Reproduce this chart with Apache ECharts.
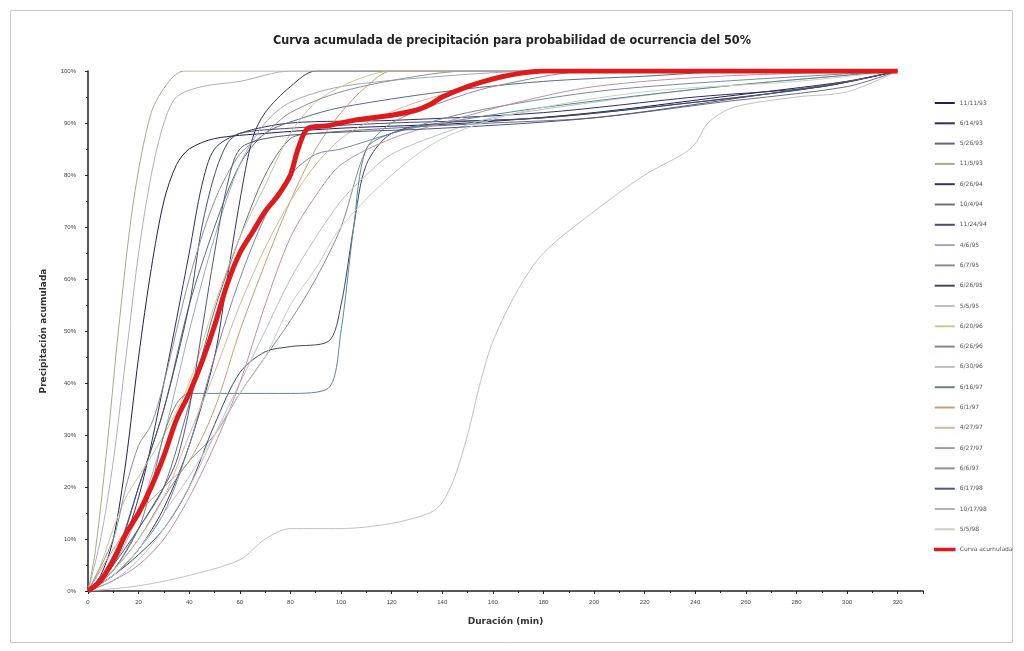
<!DOCTYPE html>
<html><head><meta charset="utf-8">
<script src="https://cdn.jsdelivr.net/npm/echarts@6/dist/echarts.min.js"></script>
<style>html,body{margin:0;padding:0;background:#fff}#c{width:1024px;height:651px}</style>
</head><body><div id="c"></div>
<script>
const titleText = "Curva acumulada de precipitación para probabilidad de ocurrencia del 50%";
const xName = "Duración (min)";
const yName = "Precipitación acumulada";
const names = ["11/11/93","6/14/93","5/26/93","11/5/93","6/26/94","10/4/94","11/24/94","4/6/95","6/7/95","6/26/95","5/5/95","6/20/96","6/26/96","6/30/96","6/16/97","6/1/97","4/27/97","6/27/97","6/6/97","6/17/98","10/17/98","5/5/98"];
const colors = ["#1f1f5a","#2e2e6e","#5a6a8a","#a8a890","#3d3060","#6a7088","#4a4a70","#a0a8c0","#8a8a9a","#404866","#c0c0c8","#c8c890","#7888a8","#b8c0d0","#5a8a8a","#c8a070","#d8b890","#c090a0","#909098","#505878","#b0b0b8","#c8d0c0"];
const s01 = [[0,0],[5,3],[10,10],[15,25],[20,45],[25,62],[30,75],[35,82],[40,85],[50,87],[70,88],[100,89],[150,90],[200,92],[250,95],[300,98],[320,100]];
const s02 = [[0,0],[10,5],[20,18],[30,40],[40,65],[45,78],[50,85],[60,88],[80,90],[120,90.5],[180,92],[240,95],[290,97],[320,100]];
const s03 = [[0,0],[10,6],[20,20],[30,35],[40,55],[50,70],[60,82],[70,88],[85,91],[100,93],[140,96],[180,98],[220,99],[260,100],[320,100]];
const s04 = [[0,0],[3,8],[8,30],[12,50],[18,75],[25,92],[32,98],[38,100],[320,100]];
const s05 = [[0,0],[10,3],[20,8],[30,16],[40,28],[50,45],[55,60],[60,75],[65,87],[70,92],[80,97],[90,100],[320,100]];
const s06 = [[0,0],[10,4],[20,12],[30,20],[40,36],[50,54],[60,68],[70,80],[80,87],[90,88],[120,89],[160,90],[200,91],[250,94],[300,97],[320,100]];
const s07 = [[0,0],[5,2],[10,6],[15,12],[20,20],[30,35],[40,55],[45,70],[50,80],[55,86],[60,88],[80,89],[120,90],[180,91],[240,94],[290,97],[320,100]];
const s08 = [[0,0],[10,5],[20,15],[30,30],[40,50],[50,68],[60,82],[70,90],[80,94],[100,97],[140,99],[180,100],[320,100]];
const s09 = [[0,0],[10,4],[20,10],[30,18],[40,25],[50,30],[60,38],[70,45],[80,52],[90,60],[100,70],[110,85],[120,90],[140,94],[160,97],[200,100],[320,100]];
const s10 = [[0,0],[10,3],[20,7],[30,12],[40,20],[50,32],[60,42],[70,46],[80,47],[95,48],[100,55],[105,70],[110,82],[120,88],[140,90],[180,91],[240,94],[290,97],[320,100]];
const s11 = [[0,0],[20,1],[40,3],[60,6],[70,10],[80,12],[100,12],[120,13],[135,15],[140,17],[145,22],[150,30],[155,40],[160,48],[170,58],[180,65],[200,73],[220,80],[235,84],[240,86],[245,90],[255,93],[280,95],[300,96],[320,100]];
const s12 = [[0,0],[5,5],[10,12],[15,18],[20,22],[30,30],[40,40],[50,55],[60,68],[70,78],[80,88],[90,94],[100,97],[110,99],[120,100],[320,100]];
const s13 = [[0,0],[10,3],[20,8],[30,15],[40,28],[50,45],[60,60],[70,72],[80,80],[90,84],[100,85],[120,88],[150,92],[200,96],[250,98],[320,100]];
const s14 = [[0,0],[10,2],[20,6],[30,12],[40,20],[50,30],[60,40],[70,50],[80,60],[90,68],[100,75],[110,80],[120,84],[140,88],[160,91],[200,94],[250,97],[320,100]];
const s15 = [[0,0],[10,4],[20,12],[25,20],[30,30],[35,36],[40,38],[60,38],[80,38],[95,39],[100,50],[105,70],[110,85],[120,88],[140,90],[180,93],[250,97],[320,100]];
const s16 = [[0,0],[10,8],[20,15],[30,20],[40,25],[50,35],[60,50],[70,63],[80,75],[90,85],[100,92],[110,97],[120,100],[320,100]];
const s17 = [[0,0],[10,4],[20,10],[30,18],[40,30],[50,42],[60,55],[70,66],[80,75],[90,82],[100,87],[110,90],[130,94],[160,98],[180,100],[320,100]];
const s18 = [[0,0],[10,2],[20,5],[30,10],[40,18],[50,28],[60,40],[70,55],[80,68],[90,76],[100,82],[120,87],[140,90],[170,94],[200,97],[250,99],[320,100]];
const s19 = [[0,0],[10,10],[15,20],[20,28],[25,32],[30,40],[40,60],[50,75],[60,84],[70,88],[80,92],[100,96],[130,99],[150,100],[320,100]];
const s20 = [[0,0],[5,2],[10,5],[20,12],[30,20],[35,25],[40,35],[45,50],[50,65],[55,78],[60,85],[70,87],[90,88],[140,89],[200,91],[260,95],[300,98],[320,100]];
const s21 = [[0,0],[5,10],[10,25],[15,45],[20,65],[25,80],[30,90],[35,95],[45,97],[60,98],[80,100],[320,100]];
const s22 = [[0,0],[10,3],[20,8],[30,15],[40,22],[50,30],[60,38],[70,45],[80,55],[90,62],[100,70],[120,80],[140,87],[170,92],[220,96],[280,98],[320,100]];
const thinSeries = [s01,s02,s03,s04,s05,s06,s07,s08,s09,s10,s11,s12,s13,s14,s15,s16,s17,s18,s19,s20,s21,s22];
const redName = "Curva acumulada";
const redCurve = [[0,0],[5,2],[10,6],[15,11],[20,15],[25,20],[30,26],[35,33],[40,38],[45,44],[50,51],[55,59],[60,65],[65,69],[70,73],[75,76],[80,80],[83,85],[87,89],[95,89.5],[105,90.5],[120,91.5],[130,92.5],[135,93.5],[140,95],[150,97],[160,98.5],[170,99.5],[180,100],[320,100]];

const series = thinSeries.map((d,i)=>({
  name: names[i], type:'line', data:d, smooth:0.3, symbol:'none',
  lineStyle:{width:1, color:colors[i]}, itemStyle:{color:colors[i]}, z:2
}));
series.push({name:redName,type:'line',data:redCurve,smooth:0.3,symbol:'none',
  lineStyle:{width:5,color:'#e01a1a'},itemStyle:{color:'#e01a1a'},z:5});

const legendData = names.map(n=>({name:n,icon:'rect'}));
legendData.push({name:redName,icon:'rect',itemStyle:{borderColor:'#e01a1a',borderWidth:1.5}});

const chart = echarts.init(document.getElementById('c'));
chart.setOption({
  animation:false,
  backgroundColor:'#fff',
  title:{text:titleText,left:'center',top:29,textStyle:{fontFamily:'DejaVu Sans Condensed',fontSize:12.5,fontWeight:'bold',color:'#222'}},
  graphic:[{type:'rect',shape:{x:10.5,y:10.5,width:1002,height:632},style:{fill:'none',stroke:'#c8c8c8',lineWidth:1},z:-1}],
  legend:{orient:'vertical',left:929,top:95,itemWidth:20,itemHeight:2,itemGap:14.3,
    textStyle:{fontSize:6,color:'#555',fontFamily:'DejaVu Sans'},
    data:legendData},
  grid:{left:88,right:101,top:71,bottom:60},
  xAxis:{type:'value',min:0,max:330,interval:20,name:xName,nameLocation:'middle',nameGap:26,
    nameTextStyle:{fontSize:9,fontWeight:'bold',color:'#333',fontFamily:'DejaVu Sans'},
    axisLine:{lineStyle:{color:'#222',width:1.5}},
    axisTick:{length:3,lineStyle:{color:'#222'}},
    minorTick:{show:true,splitNumber:2,length:2,lineStyle:{color:'#222'}},
    axisLabel:{fontSize:6,color:'#444',showMaxLabel:false,margin:8},
    splitLine:{show:false}},
  yAxis:{type:'value',min:0,max:100,interval:10,name:yName,nameLocation:'middle',nameGap:40,
    nameTextStyle:{fontSize:9,fontWeight:'bold',color:'#333',fontFamily:'DejaVu Sans'},
    axisLine:{show:true,lineStyle:{color:'#222',width:1.5}},
    axisTick:{show:true,length:3,lineStyle:{color:'#222'}},
    minorTick:{show:true,splitNumber:2,length:2,lineStyle:{color:'#222'}},
    axisLabel:{fontSize:6,color:'#444',formatter:'{value}%',margin:12},
    splitLine:{show:false}},
  series:series
});
</script></body></html>
